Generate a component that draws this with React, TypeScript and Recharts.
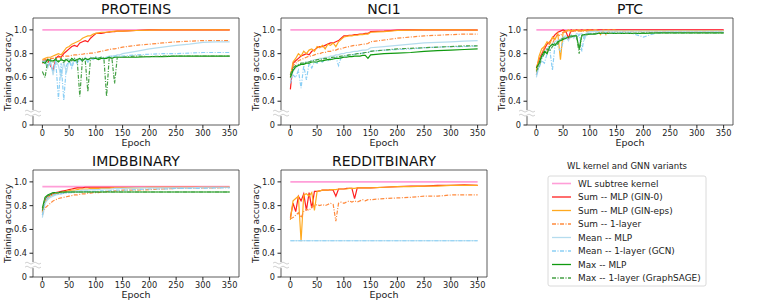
import React from 'react';
import {
  LineChart,
  Line,
  XAxis,
  YAxis,
  Label,
  ReferenceArea,
  ReferenceDot,
} from 'recharts';

const EPOCHS = [
  0, 5, 10, 15, 20, 25, 30, 35, 40, 45,
  50, 55, 60, 65, 70, 75, 80, 85, 90, 95,
  100, 105, 110, 115, 120, 125, 130, 135, 140, 145,
  150, 175, 200, 225, 250, 275, 300, 325, 350,
];
const FLAT = [0, 350];

const X_TICKS = [0, 50, 100, 150, 200, 250, 300, 350];
const Y_TICKS = [0.2, 0.4, 0.6, 0.8, 1.0];

// ---- PROTEINS (accuracy in %)
const PROTEINS_WL = [100, 100];
const PROTEINS_GIN0 = [
  72, 74, 75, 70, 66, 76, 78, 77, 80, 82,
  84, 86, 87, 86, 89, 90, 91, 90, 93, 95,
  97, 97, 97, 97.5, 98, 98, 98.5, 98.5, 99, 99,
  99, 99.5, 100, 100, 100, 100, 100, 100, 100,
];
const PROTEINS_GINEPS = [
  75, 76, 77, 77, 78, 79, 80, 79, 82, 85,
  86, 88, 89, 90, 91, 93, 94, 95, 95, 96.5,
  97, 97.5, 98, 98, 98, 98.5, 98.5, 99, 99, 99,
  99, 99.5, 99.8, 100, 100, 100, 100, 100, 100,
];
const PROTEINS_SUM1 = [
  74, 75, 76, 76, 76, 77, 77, 77, 78, 78,
  78, 78.5, 79, 79, 79.5, 79.5, 80, 80, 80.5, 80.5,
  81, 81.5, 82, 82.5, 83, 83.5, 84, 84, 84.5, 85,
  85.5, 87, 88, 89, 90, 90.5, 91, 91, 91,
];
const PROTEINS_MEANMLP = [
  74, 72, 68, 75, 62, 74, 70, 60, 73, 64,
  75, 70, 76, 72, 76, 74, 77, 73, 77, 76,
  77, 76, 77, 75, 77, 78, 78, 78, 79, 79,
  80, 82, 84, 85.5, 87, 88, 89.5, 90, 90,
];
const PROTEINS_MEAN1 = [
  73, 74, 70, 72, 65, 74, 42, 72, 41, 70,
  74, 68, 75, 72, 75, 74, 76, 73, 76, 75,
  77, 76, 77, 77, 77, 77, 78, 78, 78, 78,
  78, 79, 79.5, 80, 80, 80.5, 81, 81, 81,
];
const PROTEINS_MAXMLP = [
  73, 72, 75, 74, 74, 75, 73, 75, 74, 75,
  73, 76, 74, 75, 76, 74, 76, 75, 76, 76,
  76, 75, 76, 76, 76, 77, 76, 77, 77, 77,
  77, 77, 77.5, 77.5, 78, 78, 78, 78, 78,
];
const PROTEINS_MAX1 = [
  65, 60, 74, 75, 73, 76, 74, 76, 72, 76,
  75, 74, 76, 75, 44, 76, 75, 48, 76, 76,
  77, 76, 77, 76, 44, 77, 76, 55, 77, 77,
  77, 78, 77.5, 78, 78, 78, 78, 78, 78,
];

// ---- NCI1
const NCI1_WL = [100, 100];
const NCI1_GIN0 = [
  50, 72, 74, 76, 78, 79, 80, 79, 82, 83,
  85, 86, 86, 87, 88, 89, 89, 90, 91, 93,
  95, 95, 95.5, 95.5, 96, 96, 96.5, 96.5, 97, 97,
  98.5, 99, 99.8, 100, 100, 100, 100, 100, 99.8,
];
const NCI1_GINEPS = [
  60, 73, 76, 80, 78, 82, 80, 83, 84, 82,
  86, 85, 87, 84, 88, 87, 89, 86, 90, 92,
  94, 94.5, 95, 95, 95.5, 95.5, 96, 96, 96.5, 96.5,
  98, 98.5, 99.5, 99.8, 100, 100, 100, 100, 99.8,
];
const NCI1_SUM1 = [
  62, 70, 72, 74, 75, 76, 77, 78, 78, 79,
  80, 80, 81, 81, 82, 82, 83, 83, 84, 84,
  85, 85.5, 86, 86.5, 87, 87, 87.5, 88, 88, 88.5,
  90, 91.5, 93, 94, 95, 95.5, 96, 96.5, 96.5,
];
const NCI1_MEANMLP = [
  58, 65, 68, 70, 71, 72, 73, 73, 74, 75,
  75, 76, 76, 77, 77, 78, 78, 79, 79, 80,
  80, 81, 81, 81.5, 82, 82, 82.5, 83, 83, 83.5,
  85, 86, 87, 88, 89, 89.5, 90, 90.5, 91,
];
const NCI1_MEAN1 = [
  55, 62, 60, 66, 51, 70, 58, 72, 68, 73,
  72, 74, 73, 75, 74, 76, 75, 77, 70, 77,
  78, 78, 79, 79, 79.5, 80, 80, 80.5, 81, 81,
  82, 83, 83.5, 84, 85, 85.5, 86, 86, 86.5,
];
const NCI1_MAXMLP = [
  60, 66, 69, 70, 71, 71, 72, 72, 73, 73,
  73, 74, 74, 74.5, 75, 75, 75.5, 76, 76, 76.5,
  77, 77, 77.5, 77.5, 78, 78, 78, 78.5, 78.5, 76,
  79, 80, 80.5, 81, 82, 82.5, 83, 83.5, 84,
];
const NCI1_MAX1 = [
  62, 68, 70, 71, 72, 72, 73, 73, 74, 74,
  75, 75, 75.5, 76, 76, 76.5, 77, 77, 77.5, 78,
  78, 78.5, 79, 79, 79.5, 80, 80, 80.5, 81, 81,
  82, 83, 84, 84.5, 85, 85.5, 86, 86.5, 86.5,
];

// ---- PTC
const PTC_WL = [100, 100];
const PTC_GIN0 = [
  68, 75, 80, 84, 88, 90, 93, 96, 98, 99,
  100, 99, 93, 100, 99, 100, 99.5, 100, 99.5, 100,
  100, 100, 99.5, 100, 100, 100, 100, 100, 100, 100,
  100, 100, 100, 100, 100, 100, 100, 100, 100,
];
const PTC_GINEPS = [
  66, 78, 84, 86, 90, 88, 94, 92, 97, 75,
  98, 99, 100, 99, 100, 99.5, 100, 99, 100, 99.5,
  100, 99.5, 100, 99.5, 96, 100, 99.5, 100, 99.5, 100,
  99.5, 99.5, 99.5, 99.5, 99.5, 99.5, 99.5, 99.5, 99.5,
];
const PTC_SUM1 = [
  62, 72, 80, 85, 82, 90, 88, 94, 96, 95,
  98, 98, 99, 98.5, 99, 99, 99, 99, 99, 99,
  99, 99, 99, 99, 99, 99, 96, 99, 99, 99,
  99, 99, 99, 99, 99, 99, 99, 99, 99,
];
const PTC_MEANMLP = [
  60, 70, 76, 80, 84, 86, 88, 90, 91, 92,
  94, 95, 91, 96, 93, 97, 96, 97, 92, 98,
  98.5, 98.5, 99, 98.5, 99, 99, 99, 99, 99, 99,
  99, 99, 99, 99, 99, 99, 99, 99, 99,
];
const PTC_MEAN1 = [
  62, 68, 74, 72, 80, 84, 66, 88, 86, 82,
  90, 93, 92, 94, 95, 93, 96, 82, 96, 97,
  97, 97, 97.5, 97, 97.5, 97.5, 97.5, 97.5, 97.5, 97.5,
  97.5, 97.5, 94, 97.5, 98, 98, 98, 98, 98,
];
const PTC_MAXMLP = [
  68, 72, 78, 82, 80, 86, 88, 87, 90, 91,
  92, 93, 94, 94, 95, 95, 84, 95.5, 96, 96,
  96.5, 96.5, 96.5, 97, 97, 97, 97, 97, 97, 97,
  97, 97, 97, 97.5, 97.5, 97.5, 97.5, 97.5, 97.5,
];
const PTC_MAX1 = [
  65, 70, 76, 80, 84, 82, 86, 89, 88, 92,
  93, 93, 94, 95, 95, 95, 80, 96, 96, 96.5,
  96.5, 96.5, 97, 97, 97, 97, 97, 97, 97, 97,
  97, 97, 97.5, 97.5, 97.5, 97.5, 97.5, 97.5, 97.5,
];

// ---- IMDBBINARY
const IMDB_WL = [96, 96];
const IMDB_GIN0 = [
  75, 85, 88, 89, 90, 91, 91.5, 92, 92.5, 93,
  93.5, 94, 94.5, 95, 95, 95, 95.5, 95.5, 95.5, 95.5,
  95.5, 95.5, 95.5, 95.5, 95.5, 95.5, 95.5, 95.5, 95.5, 95.5,
  95.5, 95.5, 95.5, 95.5, 95.5, 95.5, 95.5, 95.5, 95.5,
];
const IMDB_GINEPS = [
  74, 83, 86, 88, 89, 90, 90.5, 91, 91.5, 92,
  92.5, 93, 93, 93.5, 94, 94, 94, 94, 94.5, 94.5,
  94.5, 94.5, 94.5, 94.5, 94.5, 94.5, 95, 95, 95, 95,
  95, 95, 95.5, 95.5, 95.5, 95.5, 95.5, 95.5, 95.5,
];
const IMDB_SUM1 = [
  72, 78, 80, 82, 84, 85, 86, 86.5, 87, 87.5,
  88, 88.5, 89, 89, 89.5, 90, 90, 90.5, 90.5, 91,
  91, 91, 91.5, 91.5, 92, 92, 92, 92.5, 92.5, 92.5,
  93, 93, 93.5, 94, 94.5, 95, 95, 95, 95.5,
];
const IMDB_MEANMLP = [
  70, 82, 85, 87, 88, 89, 89.5, 90, 90.5, 91,
  91.5, 92, 92, 92.5, 92.5, 93, 93, 93, 93.5, 93.5,
  93.5, 93.5, 94, 94, 94, 94, 94, 94.5, 94.5, 94.5,
  94.5, 95, 95, 95, 95, 95, 95.5, 95.5, 95.5,
];
const IMDB_MEAN1 = [
  72, 84, 87, 88, 89, 89.5, 90, 90, 90.5, 90.5,
  91, 91, 91, 91.5, 91.5, 91.5, 92, 92, 92, 92,
  92, 92, 92.5, 92.5, 92.5, 92.5, 93, 93, 93, 93,
  93, 93.5, 94, 94, 94.5, 94.5, 94.5, 95, 95,
];
const IMDB_MAXMLP = [
  78, 87, 89, 90, 91, 91, 91, 91.5, 91.5, 91.5,
  91.5, 91.5, 91.5, 91.5, 91.5, 91.5, 91.5, 91.5, 91.5, 91.5,
  91.5, 91.5, 91.5, 91.5, 91.5, 91.5, 91.5, 91.5, 91.5, 91.5,
  91.5, 91.5, 91.5, 91.5, 91.5, 91.5, 91.5, 91.5, 91.5,
];
const IMDB_MAX1 = [
  76, 86, 88, 89.5, 90.5, 91, 91, 91, 91, 91.5,
  91.5, 91.5, 91.5, 91.5, 91.5, 91.5, 91.5, 91.5, 91.5, 91.5,
  91.5, 91.5, 91.5, 91.5, 91.5, 91.5, 91.5, 91.5, 91.5, 91.5,
  91.5, 91.5, 91.5, 91.5, 91.5, 91.5, 91.5, 91.5, 91.5,
];

// ---- REDDITBINARY (no Max curves)
const REDDIT_WL = [100, 100];
const REDDIT_GIN0 = [
  70, 82, 75, 88, 84, 90, 76, 91, 78, 92,
  92, 92.5, 93, 93, 93, 93.5, 93, 88, 94, 94,
  94, 94.5, 94.5, 94.5, 86, 95, 95, 95, 95, 95,
  95, 95.5, 96, 96.5, 96.5, 97, 97, 97.5, 97,
];
const REDDIT_GINEPS = [
  68, 84, 86, 88, 50, 89, 90, 88, 91, 76,
  92, 92.5, 93, 93, 93, 93.5, 93.5, 93.5, 94, 94,
  94, 94, 94.5, 94.5, 94.5, 95, 95, 95, 95, 95,
  95, 95.5, 96, 96, 96.5, 96.5, 97, 97, 97,
];
const REDDIT_SUM1 = [
  69, 70, 72, 74, 70, 75, 77, 76, 79, 80,
  81, 80, 81, 80, 81, 82, 81, 67, 82, 83,
  82, 83, 84, 83, 84, 83, 84, 85, 84, 85,
  85, 86, 86.5, 87, 88, 88, 89, 89, 89,
];
const REDDIT_MEANMLP = [50.5, 50.5];
const REDDIT_MEAN1 = [50.5, 50.5];

const DASHDOT = '4 1.5 1 1.5';

const SERIES = [
  { name: 'WL subtree kernel', color: '#ff9ed8', width: 1.6, dash: undefined },
  { name: 'Sum -- MLP (GIN-0)', color: '#ff1f1f', width: 1.2, dash: undefined },
  { name: 'Sum -- MLP (GIN-eps)', color: '#ffa91f', width: 1.2, dash: undefined },
  { name: 'Sum -- 1-layer', color: '#ff8a3d', width: 1.2, dash: DASHDOT },
  { name: 'Mean -- MLP', color: '#b5dcee', width: 1.2, dash: undefined },
  { name: 'Mean -- 1-layer (GCN)', color: '#8ccff5', width: 1.2, dash: DASHDOT },
  { name: 'Max -- MLP', color: '#109a10', width: 1.2, dash: undefined },
  { name: 'Max -- 1-layer (GraphSAGE)', color: '#44a044', width: 1.2, dash: DASHDOT },
];

type Curve = [number[], number[]] | null;

const PANELS: { title: string; left: number; top: number; curves: Curve[] }[] = [
  {
    title: 'PROTEINS', left: 0, top: 0,
    curves: [
      [FLAT, PROTEINS_WL], [EPOCHS, PROTEINS_GIN0], [EPOCHS, PROTEINS_GINEPS], [EPOCHS, PROTEINS_SUM1],
      [EPOCHS, PROTEINS_MEANMLP], [EPOCHS, PROTEINS_MEAN1], [EPOCHS, PROTEINS_MAXMLP], [EPOCHS, PROTEINS_MAX1],
    ],
  },
  {
    title: 'NCI1', left: 248, top: 0,
    curves: [
      [FLAT, NCI1_WL], [EPOCHS, NCI1_GIN0], [EPOCHS, NCI1_GINEPS], [EPOCHS, NCI1_SUM1],
      [EPOCHS, NCI1_MEANMLP], [EPOCHS, NCI1_MEAN1], [EPOCHS, NCI1_MAXMLP], [EPOCHS, NCI1_MAX1],
    ],
  },
  {
    title: 'PTC', left: 494, top: 0,
    curves: [
      [FLAT, PTC_WL], [EPOCHS, PTC_GIN0], [EPOCHS, PTC_GINEPS], [EPOCHS, PTC_SUM1],
      [EPOCHS, PTC_MEANMLP], [EPOCHS, PTC_MEAN1], [EPOCHS, PTC_MAXMLP], [EPOCHS, PTC_MAX1],
    ],
  },
  {
    title: 'IMDBBINARY', left: 0, top: 152,
    curves: [
      [FLAT, IMDB_WL], [EPOCHS, IMDB_GIN0], [EPOCHS, IMDB_GINEPS], [EPOCHS, IMDB_SUM1],
      [EPOCHS, IMDB_MEANMLP], [EPOCHS, IMDB_MEAN1], [EPOCHS, IMDB_MAXMLP], [EPOCHS, IMDB_MAX1],
    ],
  },
  {
    title: 'REDDITBINARY', left: 248, top: 152,
    curves: [
      [FLAT, REDDIT_WL], [EPOCHS, REDDIT_GIN0], [EPOCHS, REDDIT_GINEPS], [EPOCHS, REDDIT_SUM1],
      [FLAT, REDDIT_MEANMLP], [FLAT, REDDIT_MEAN1], null, null,
    ],
  },
];

const FONT = '"DejaVu Sans", sans-serif';
const TEXT = '#222';
const CHART_W = 244;
const CHART_H = 150;
const Y_AXIS_W = 33;
const TOP = 18;
const X_AXIS_H = 25;
const PLOT_W = CHART_W - Y_AXIS_W - 5;
const PLOT_H = CHART_H - TOP - X_AXIS_H;

const BreakMark = (p: any) => {
  const { cx, cy } = p;
  const wave = (y: number) => `M${cx - 8},${y} q2,-2 4,0 t4,0 t4,0 t4,0`;
  return (
    <g>
      <rect x={cx - 8} y={cy - 3} width={16} height={6} fill="#fff" />
      <path d={wave(cy - 2)} stroke="#c4c4c4" strokeWidth={0.8} fill="none" />
      <path d={wave(cy + 2)} stroke="#c4c4c4" strokeWidth={0.8} fill="none" />
    </g>
  );
};

const YTitle = () => {
  const cy = TOP + PLOT_H / 2;
  return (
    <text x={8} y={cy} transform={`rotate(-90 8 ${cy})`} textAnchor="middle"
      dominantBaseline="central" fontSize={9} fill={TEXT} fontFamily={FONT}>
      Training accuracy
    </text>
  );
};

const XTitle = () => (
  <text x={Y_AXIS_W + PLOT_W / 2} y={146} textAnchor="middle" fontSize={9.5} fill={TEXT} fontFamily={FONT}>
    Epoch
  </text>
);

const Panel = ({ panel }: { panel: typeof PANELS[number] }) => (
  <div style={{ position: 'absolute', left: panel.left, top: panel.top }}>
    <LineChart width={CHART_W} height={CHART_H} margin={{ top: TOP, right: 5, bottom: 0, left: 0 }}>
      <XAxis
        type="number"
        dataKey="epoch"
        domain={[-17.5, 367.5]}
        ticks={X_TICKS}
        allowDataOverflow
        height={X_AXIS_H}
        axisLine={false}
        tickSize={3.5}
        tickMargin={1.5}
        tickLine={{ stroke: '#222' }}
        tick={{ fontSize: 8.2, fill: TEXT, fontFamily: FONT }}
      >
        <Label content={<XTitle />} />
      </XAxis>
      <YAxis
        type="number"
        domain={[0.2, 1.1]}
        ticks={Y_TICKS}
        allowDataOverflow
        width={Y_AXIS_W}
        axisLine={false}
        tickSize={3.5}
        tickMargin={2.5}
        tickLine={{ stroke: '#222' }}
        tick={{ fontSize: 8.2, fill: TEXT, fontFamily: FONT }}
        tickFormatter={(v: number) => (v === 0.2 ? '0' : v.toFixed(1))}
      >
        <Label content={<YTitle />} />
      </YAxis>
      {panel.curves.map((c, i) =>
        c ? (
          <Line
            key={SERIES[i].name}
            data={c[0].map((e, k) => ({ epoch: e, acc: c[1][k] / 100 }))}
            dataKey="acc"
            name={SERIES[i].name}
            type="linear"
            stroke={SERIES[i].color}
            strokeWidth={SERIES[i].width}
            strokeDasharray={SERIES[i].dash}
            dot={false}
            activeDot={false}
            isAnimationActive={false}
          />
        ) : null
      )}
      <ReferenceArea x1={-17.5} x2={367.5} y1={0.2} y2={1.1} fill="none" stroke="#333"
        strokeWidth={0.8} ifOverflow="visible" />
      <ReferenceDot x={-17.5} y={0.3} ifOverflow="visible" shape={BreakMark} />
    </LineChart>
  </div>
);

const LEGEND_ROW0 = 183.5;
const LEGEND_STEP = 13.5;

export default function App() {
  return (
    <div style={{ position: 'absolute', left: 0, top: 0, width: 761, height: 306, background: '#fff', fontFamily: FONT }}>
      <svg width={761} height={306} style={{ position: 'absolute', left: 0, top: 0 }}>
        {PANELS.map((p) => (
          <text key={p.title} x={p.left + Y_AXIS_W + PLOT_W / 2} y={p.top + 13.5} textAnchor="middle"
            fontSize={14} fill="#111" fontFamily={FONT}>
            {p.title}
          </text>
        ))}
        <text x={627} y={168.5} textAnchor="middle" fontSize={8.5} fill={TEXT} fontFamily={FONT}>
          WL kernel and GNN variants
        </text>
        <rect x={548} y={176} width={158} height={110} rx={2} fill="#fff" stroke="#d0d0d0" strokeWidth={0.8} />
        {SERIES.map((s, i) => {
          const y = LEGEND_ROW0 + i * LEGEND_STEP;
          return (
            <g key={s.name}>
              <line x1={552} x2={571} y1={y} y2={y} stroke={s.color} strokeWidth={s.width === 1.6 ? 1.6 : 1.3}
                strokeDasharray={s.dash} />
              <text x={578} y={y + 3.2} fontSize={8.9} fill={TEXT} fontFamily={FONT}>{s.name}</text>
            </g>
          );
        })}
      </svg>
      {PANELS.map((p) => (
        <Panel key={p.title} panel={p} />
      ))}
    </div>
  );
}
